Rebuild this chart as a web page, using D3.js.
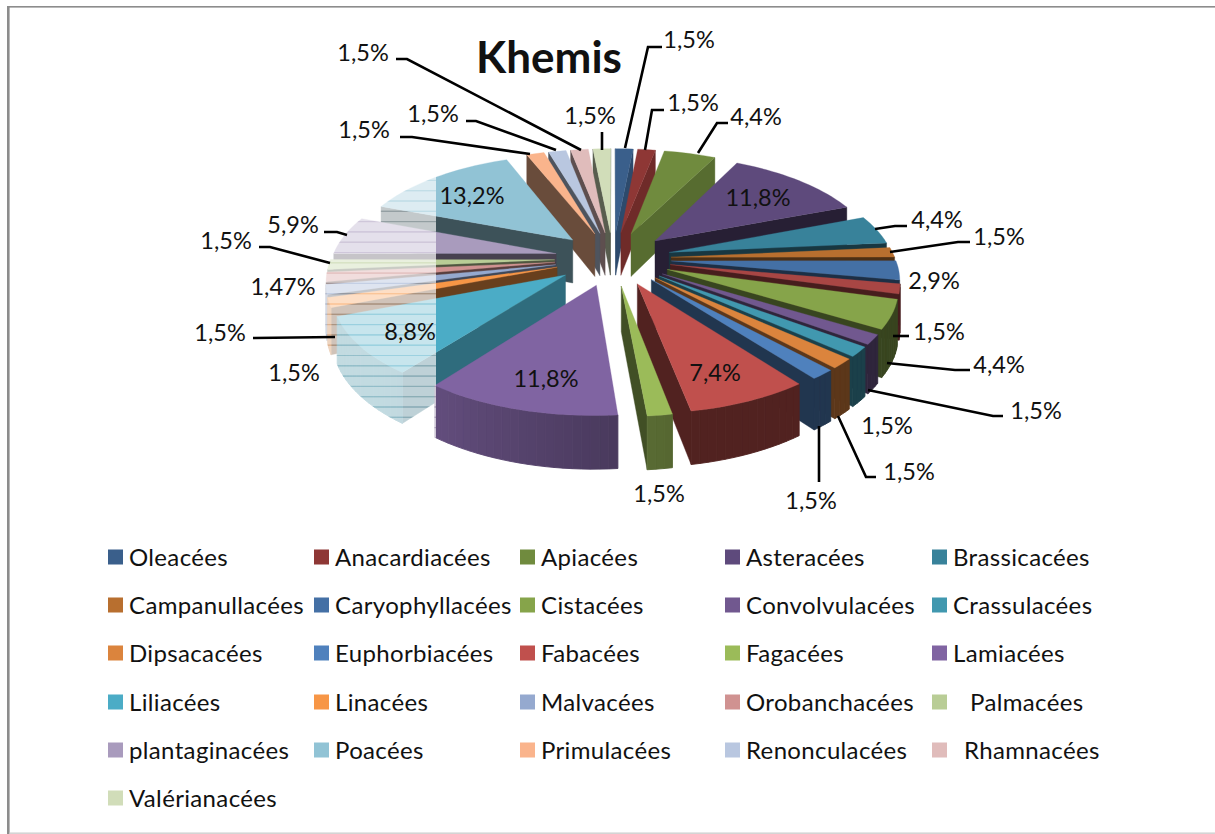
<!DOCTYPE html>
<html><head><meta charset="utf-8">
<script src="https://cdn.jsdelivr.net/npm/d3@7/dist/d3.min.js"></script>
<style>html,body{margin:0;padding:0;background:#fff;overflow:hidden}svg{display:block}
text{font-family:Lato,"Open Sans",sans-serif;fill:#111}</style></head><body><div id="c"></div>
<script>
const title = "Khemis";
const categories = ["Oleacées","Anacardiacées","Apiacées","Asteracées","Brassicacées","Campanullacées","Caryophyllacées","","Cistacées","Convolvulacées","Crassulacées","Dipsacacées","Euphorbiacées","Fabacées","Fagacées","Lamiacées","Liliacées","Linacées","Malvacées","Orobanchacées","Palmacées","plantaginacées","Poacées","Primulacées","Renonculacées","Rhamnacées","Valérianacées"];
const values = [1.5,1.5,4.4,11.8,4.4,1.5,2.9,1.5,4.4,1.5,1.5,1.5,1.5,7.4,1.5,11.8,8.8,1.5,1.5,1.47,1.5,5.9,13.2,1.5,1.5,1.5,1.5];
const colors = ["#3A5F8B","#8E3735","#708B3E","#5E4A7C","#38829A","#B86F2F","#4470A5","#A84644","#86A44A","#71588F","#4198AF","#DB843D","#4F81BD","#C0504D","#9BBB59","#8064A2","#4BACC6","#F79646","#95A9CF","#D09291","#B9CD96","#A99BBD","#91C3D5","#FAB48C","#B9C7E0","#E0BCBB","#D1DDB9"];
const labelText = values.map(v => String(v).replace(".", ",") + "%");
// label placement: [centre x, centre y, leader points...]
const labelLayout = [
 [689,39,[[662,47],[648,47],[625,148]]],
 [693,102,[[664,110],[652,110],[645,150]]],
 [756,116,[[728,123],[717,123],[698,153]]],
 [758,197,[]],
 [937,219,[[907,226],[895,226],[875,229]]],
 [999,236,[[970,242],[958,242],[890,252]]],
 [934,280,[]],
 [939,331,[[909,336],[893,336]]],
 [999,364,[[970,370],[955,370],[887,363]]],
 [1036,410,[[1003,416],[993,416],[868,390]]],
 [887,425,[]],
 [909,471,[[876,477],[866,477],[838,416]]],
 [811,500,[[819,482],[819,426]]],
 [715,372,[]],
 [659,493,[]],
 [546,378,[]],
 [410,331,[]],
 [294,372,[]],
 [220,332,[[253,338],[335,337]]],
 [283,286,[]],
 [226,240,[[259,247],[270,247],[330,263]]],
 [293,224,[[324,232],[337,232],[347,235]]],
 [472,195,[]],
 [364,129,[[400,137],[412,137],[530,154]]],
 [433,113,[[466,121],[476,121],[556,150]]],
 [363,52,[[396,59],[407,59],[581,150]]],
 [590,115,[[602,132],[602,150]]]
];
const legendIndent = {"Palmacées":17,"Rhamnacées":11};

const W=1215,H=834;
const svg=d3.select("#c").append("svg").attr("width",W).attr("height",H);
// frame
svg.append("rect").attr("x",7).attr("y",6).attr("width",W-7).attr("height",1.6).attr("fill","#8c8c8c");
svg.append("rect").attr("x",7).attr("y",6).attr("width",2.6).attr("height",H-6).attr("fill","#8c8c8c");
svg.append("rect").attr("x",9.6).attr("y",832.4).attr("width",W-9.6).attr("height",1.6).attr("fill","#d4d4d4");

// 3D projection
const cx=613,cy=258.5,Rx=224,Ry=103,persp=.144,explode=.26,depth=44;
const proj=(u,v,z=0)=>{const s=1/(1-persp*v);return [cx+Rx*u*s,cy+Ry*v*s+z*depth*s];};
const pie=d3.pie().sort(null).value(d=>d.v).startAngle(0).endAngle(2*Math.PI);
const arcs=pie(values.map((v,i)=>({v,i})));
const shade=(c,f)=>{const r=d3.rgb(c);return d3.rgb(r.r*f,r.g*f,r.b*f).formatHex();};
const sideF=a=>{const d=a*180/Math.PI;return d<45?.78:(d>200&&d<240?.63:.42);};
const wallF=a=>{const d=a*180/Math.PI;return d<169.6?.42:Math.min(.8,.55+(d-170)/47*.22);};
const poly=pts=>"M"+pts.map(p=>p.join(",")).join("L")+"Z";

const order=arcs.slice().sort((a,b)=>{
  const ma=(a.startAngle+a.endAngle)/2,mb=(b.startAngle+b.endAngle)/2;
  return -Math.cos(ma)- -Math.cos(mb);
});
const gPie=svg.append("g");
order.forEach(a=>{
  const m=(a.startAngle+a.endAngle)/2, eu=explode*Math.sin(m), ev=-explode*Math.cos(m);
  const c=colors[a.data.i];
  const P=(ang,z)=>proj(eu+Math.sin(ang),ev-Math.cos(ang),z);
  const tip=z=>proj(eu,ev,z);
  const g=gPie.append("g");
  // a wall hangs below a clockwise edge only when that edge runs leftwards on screen
  const runsLeft=(p,q)=>q[0]<p[0];
  if(runsLeft(tip(0),P(a.startAngle,0))){
    const col=shade(c,sideF(a.startAngle));
    g.append("path").attr("d",poly([tip(0),P(a.startAngle,0),P(a.startAngle,1),tip(1)])).attr("fill",col).attr("stroke",col).attr("stroke-width",.4);
  }
  if(runsLeft(P(a.endAngle,0),tip(0))){
    const col=shade(c,sideF(a.endAngle));
    g.append("path").attr("d",poly([tip(0),P(a.endAngle,0),P(a.endAngle,1),tip(1)])).attr("fill",col).attr("stroke",col).attr("stroke-width",.4);
  }
  const n=Math.max(2,Math.ceil((a.endAngle-a.startAngle)/.035));
  const steps=d3.range(n+1).map(k=>a.startAngle+(a.endAngle-a.startAngle)*k/n);
  for(let k=0;k<n;k++){
    const a0=steps[k],a1=steps[k+1];
    if(!runsLeft(P(a0,0),P(a1,0))) continue;
    const col=shade(c,wallF((a0+a1)/2));
    g.append("path").attr("d",poly([P(a0,0),P(a1,0),P(a1,1),P(a0,1)])).attr("fill",col).attr("stroke",col).attr("stroke-width",.9);
  }
  // top face
  g.append("path").attr("d",poly([tip(0),...steps.map(s=>P(s,0))])).attr("fill",c).attr("stroke",c).attr("stroke-width",.3);
});

// washed-out striped band over the left of the pie
const gWash=svg.append("g");
d3.range(150,445,10.3).forEach(y=>{
  gWash.append("rect").attr("x",300).attr("y",y).attr("width",136).attr("height",9.3).attr("fill","#fff").attr("opacity",.69);
  gWash.append("rect").attr("x",300).attr("y",y+9.3).attr("width",136).attr("height",1).attr("fill","#fff").attr("opacity",.45);
});

// leaders and labels
labelLayout.forEach((l,i)=>{
  if(l[2].length) svg.append("path").attr("d",d3.line()(l[2])).attr("fill","none").attr("stroke","#000").attr("stroke-width",2.6);
  svg.append("text").attr("x",l[0]).attr("y",l[1]).attr("text-anchor","middle").attr("dominant-baseline","central").attr("font-size",23.5).text(labelText[i]);
});
svg.append("text").attr("x",549).attr("y",56).attr("text-anchor","middle").attr("dominant-baseline","central").attr("font-size",44).attr("font-weight",700).attr("fill","#000").text(title);

// legend
const legendCols=[108,314,520,725,932], legendRows=[557,605,653,702,750,798];
const legendItems=categories.map((n,i)=>({n,c:colors[i]})).filter(d=>d.n);
legendItems.forEach((d,i)=>{
  const col=i%5,row=Math.floor(i/5),x=legendCols[col],y=legendRows[row];
  svg.append("rect").attr("x",x).attr("y",y-7.5).attr("width",15).attr("height",15).attr("fill",d.c);
  svg.append("text").attr("x",x+21+(legendIndent[d.n]||0)).attr("y",y-1).attr("dominant-baseline","central").attr("font-size",24).attr("letter-spacing",.35).text(d.n);
});
</script></body></html>
